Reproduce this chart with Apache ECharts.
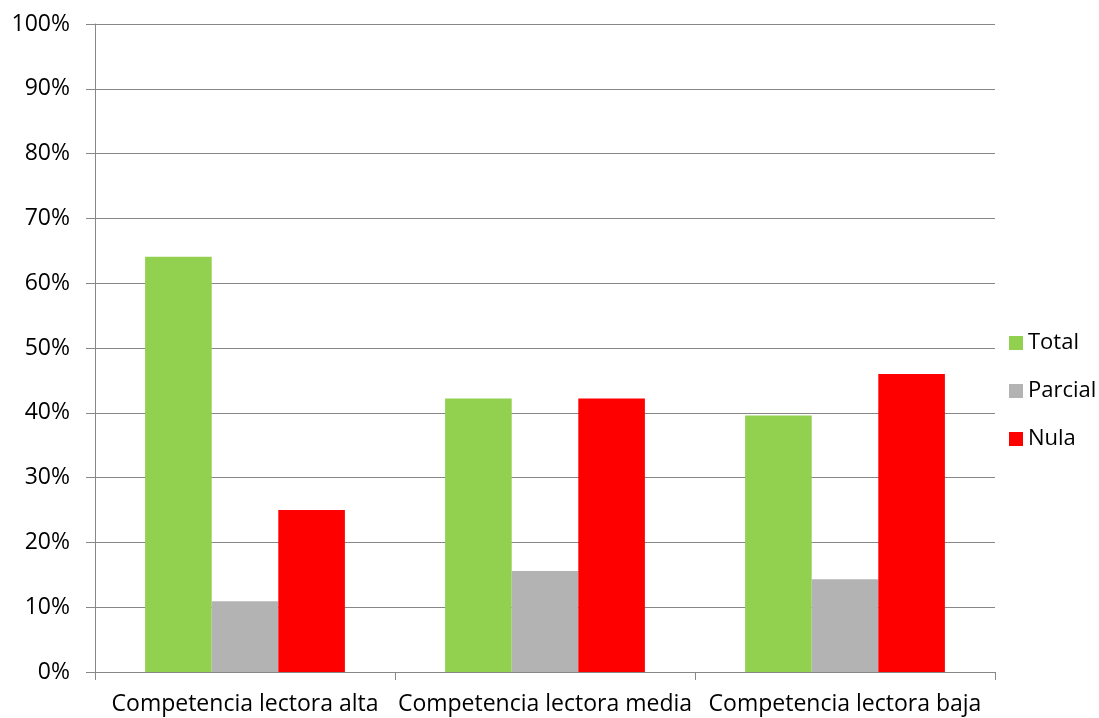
<!DOCTYPE html>
<html>
<head>
<meta charset="utf-8">
<style>
  html, body { margin: 0; padding: 0; background: #fff; }
  #chart { width: 1099px; height: 718px; }
</style>
<script src="https://cdn.jsdelivr.net/npm/echarts@6/dist/echarts.min.js"></script>
</head>
<body>
<div id="chart"></div>
<script>
// Reading competence groups
const categories = ['Competencia lectora alta', 'Competencia lectora media', 'Competencia lectora baja'];
// Percentage of each comprehension level per group
const totalValues = [64.1, 42.2, 39.6];
const parcialValues = [10.9, 15.6, 14.3];
const nulaValues = [25.0, 42.2, 46.0];
const seriesNames = ['Total', 'Parcial', 'Nula'];
const seriesColors = ['#92D050', '#B3B3B3', '#FF0000'];

const fontFamily = 'Open Sans, "Liberation Sans", sans-serif';
const axisGray = '#878787';

const chart = echarts.init(document.getElementById('chart'), null, { renderer: 'canvas' });

const seriesData = [totalValues, parcialValues, nulaValues];

chart.setOption({
  animation: false,
  backgroundColor: '#ffffff',
  grid: { left: 95, right: 104, top: 24, bottom: 46, containLabel: false },
  legend: {
    orient: 'vertical',
    left: 1004,
    top: 326,
    itemWidth: 14,
    itemHeight: 14,
    itemGap: 24,
    icon: 'rect',
    textStyle: { fontFamily, fontSize: 22, lineHeight: 24, color: '#000' },
    data: seriesNames
  },
  xAxis: {
    type: 'category',
    data: categories,
    axisLine: { lineStyle: { color: axisGray, width: 1 } },
    axisTick: { show: true, length: 8, lineStyle: { color: axisGray } },
    axisLabel: { fontFamily, fontSize: 23, color: '#000', margin: 21, interval: 0 }
  },
  yAxis: {
    type: 'value',
    min: 0,
    max: 100,
    interval: 10,
    axisLine: { show: true, lineStyle: { color: axisGray, width: 1 } },
    axisTick: { show: true, length: 9, lineStyle: { color: axisGray } },
    splitLine: { show: true, lineStyle: { color: axisGray, width: 1 } },
    axisLabel: { fontFamily, fontSize: 23, color: '#000', margin: 25, formatter: '{value}%' }
  },
  series: seriesNames.map((name, i) => ({
    name,
    type: 'bar',
    data: seriesData[i],
    barGap: '0%',
    barCategoryGap: '33.4%',
    itemStyle: { color: seriesColors[i] }
  }))
});
</script>
</body>
</html>
